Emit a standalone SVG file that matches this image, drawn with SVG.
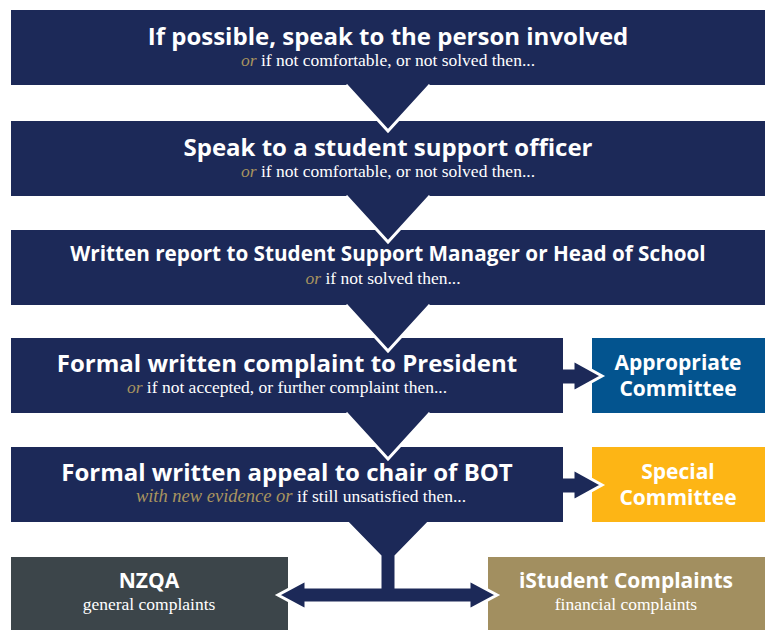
<svg xmlns="http://www.w3.org/2000/svg" width="765" height="630" viewBox="0 0 765 630">
<style>
.main{fill:#1C2958}
.t{font-family:"Open Sans",Lato,sans-serif;font-weight:700;fill:#fff;text-anchor:middle}
.s{font-family:"Liberation Serif",serif;font-size:17.5px;fill:#fff;text-anchor:middle}
.g{fill:#A8945F;font-style:italic}
.con{fill:#1C2958;stroke:#fff;stroke-width:3;stroke-linejoin:miter}
</style>
<g id="appropriate-committee">
<rect x="592" y="338" width="173" height="75" fill="#03548F"/>
<text class="t" x="678" y="370" font-size="21">Appropriate</text>
<text class="t" x="678" y="396" font-size="21">Committee</text>
</g>
<g id="special-committee">
<rect x="592" y="447" width="173" height="75" fill="#FDB515"/>
<text class="t" x="678" y="479" font-size="21">Special</text>
<text class="t" x="678" y="505" font-size="21">Committee</text>
</g>
<g id="nzqa">
<rect x="11" y="557" width="277" height="73" fill="#3C454A"/>
<text class="t" x="149" y="588" font-size="21">NZQA</text>
<text class="s" x="149" y="610">general complaints</text>
</g>
<g id="istudent">
<rect x="488" y="557" width="277" height="73" fill="#A28F60"/>
<text class="t" x="626" y="588" font-size="21">iStudent Complaints</text>
<text class="s" x="626" y="610">financial complaints</text>
</g>
<g id="connectors">
<path class="con" d="M550,368 H573 V360 L602,376 L573,392 V385 H550 Z"/>
<path class="con" d="M550,477 H573 V469 L602,485 L573,501 V494 H550 Z"/>
<path class="con" d="M340,515 L436,515 L396,556 V587 H469 V580 L497,595 L469,610 V603 H306 V610 L278,595 L306,580 V587 H380 V556 Z"/>
</g>
<g id="step1">
<rect class="main" x="11" y="10" width="754" height="75"/>
<text class="t" x="388" y="45" font-size="24">If possible, speak to the person involved</text>
<text class="s" x="388" y="65.5" font-size="18"><tspan class="g">or</tspan> if not comfortable, or not solved then...</text>
</g>
<g id="step2">
<rect class="main" x="11" y="121" width="754" height="75"/>
<text class="t" x="388" y="156" font-size="24">Speak to a student support officer</text>
<text class="s" x="388" y="176.5" font-size="18"><tspan class="g">or</tspan> if not comfortable, or not solved then...</text>
</g>
<g id="step3">
<rect class="main" x="11" y="230" width="754" height="75"/>
<text class="t" x="388" y="261" font-size="20.7">Written report to Student Support Manager or Head of School</text>
<text class="s" x="383" y="283.5" font-size="17"><tspan class="g">or</tspan> if not solved then...</text>
</g>
<g id="step4">
<rect class="main" x="11" y="338" width="552" height="75"/>
<text class="t" x="287" y="372" font-size="24">Formal written complaint to President</text>
<text class="s" x="287" y="392.5"><tspan class="g">or</tspan> if not accepted, or further complaint then...</text>
</g>
<g id="step5">
<rect class="main" x="11" y="447" width="552" height="75"/>
<text class="t" x="287" y="481" font-size="24">Formal written appeal to chair of BOT</text>
<text class="s" x="301" y="501.5"><tspan class="g" font-size="18.5">with new evidence or</tspan> if still unsatisfied then...</text>
</g>
<g id="arrows-down">
<path class="main" d="M346,85 L430,85 L388,131 Z"/>
<polyline points="346,85 388,131 430,85" fill="none" stroke="#fff" stroke-width="3"/>
<path class="main" d="M346,196 L430,196 L388,242 Z"/>
<polyline points="346,196 388,242 430,196" fill="none" stroke="#fff" stroke-width="3"/>
<path class="main" d="M346,305 L430,305 L388,351 Z"/>
<polyline points="346,305 388,351 430,305" fill="none" stroke="#fff" stroke-width="3"/>
<path class="main" d="M346,413 L430,413 L388,459 Z"/>
<polyline points="346,413 388,459 430,413" fill="none" stroke="#fff" stroke-width="3"/>
</g>
</svg>
